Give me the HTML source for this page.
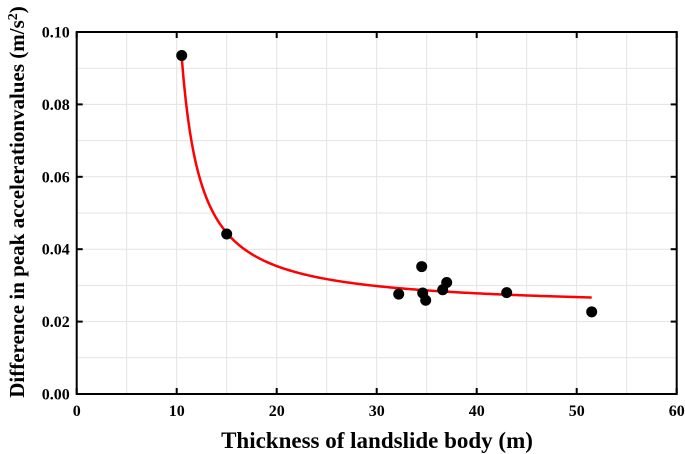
<!DOCTYPE html>
<html><head><meta charset="utf-8"><style>
html,body{margin:0;padding:0;background:#fff;}
svg{display:block;font-family:"Liberation Serif",serif;font-weight:bold;}
</style></head><body>
<svg id="chart" width="685" height="454"></svg>
<script>
const xTicks=[0,10,20,30,40,50,60];
const yTicks=[0,0.02,0.04,0.06,0.08,0.10];
const yTickLabels=["0.00","0.02","0.04","0.06","0.08","0.10"];
const xValues=[10.5,15,32.2,34.5,34.6,34.9,36.6,37,43,51.5];
const yValues=[0.0935,0.0442,0.0276,0.0352,0.0279,0.0259,0.0288,0.0308,0.0280,0.0227];
const fitParams=[0.0235,0.1356,8.55];
const fitRange=[10.5,51.5];
const NS="http://www.w3.org/2000/svg";
const svg=document.getElementById('chart');
const L=76.7,R=676.7,T=32,B=394;
const sx=v=>L+(v-0)/60*(R-L);
const sy=v=>B-(v-0)/0.1*(B-T);
function mk(tag,attrs,parent){const e=document.createElementNS(NS,tag);for(const k in attrs)e.setAttribute(k,attrs[k]);(parent||svg).appendChild(e);return e;}
for(let i=0;i<=12;i++){const x=sx(i*5);
const g=mk('line',{x1:x,x2:x,y1:T,y2:B,stroke:'#e3e3e3','stroke-width':1});

}
for(let i=0;i<=10;i++){const y=sy(i*0.01);
const g=mk('line',{x1:L,x2:R,y1:y,y2:y,stroke:'#e3e3e3','stroke-width':1});

}
const f=mk('rect',{x:L,y:T,width:R-L,height:B-T,fill:'none',stroke:'#000','stroke-width':2});


xTicks.forEach(v=>{const x=sx(v);
mk('line',{x1:x,x2:x,y1:B,y2:B-6,stroke:'#000','stroke-width':2});
mk('line',{x1:x,x2:x,y1:T,y2:T+6,stroke:'#000','stroke-width':2});
const t=mk('text',{x:x,y:416,'text-anchor':'middle','font-size':16});t.textContent=v;

});
yTicks.forEach((v,i)=>{const y=sy(v);
mk('line',{x1:L,x2:L+6,y1:y,y2:y,stroke:'#000','stroke-width':2});
mk('line',{x1:R,x2:R-6,y1:y,y2:y,stroke:'#000','stroke-width':2});
const t=mk('text',{x:L-7,y:y+5.5,'text-anchor':'end','font-size':16});t.textContent=yTickLabels[i];

});
let d='';for(let i=0;i<=200;i++){const x=fitRange[0]+(fitRange[1]-fitRange[0])*i/200;const y=fitParams[0]+fitParams[1]/(x-fitParams[2]);d+=(i?'L':'M')+sx(x).toFixed(2)+','+sy(y).toFixed(2);}
const c=mk('path',{d:d,fill:'none',stroke:'#ff0000','stroke-width':2.5});


xValues.forEach((v,i)=>{const p=mk('circle',{cx:sx(v),cy:sy(yValues[i]),r:5.5,fill:'#000'});

});
const xt=mk('text',{x:377,y:448,'text-anchor':'middle','font-size':23});xt.textContent='Thickness of landslide body (m)';


const yt=mk('text',{x:0,y:0,'text-anchor':'middle','font-size':21,transform:'translate(24,202) rotate(-90)'});
yt.innerHTML='Difference in peak accelerationvalues (m/s<tspan dy="-7" font-size="14">2</tspan><tspan dy="7">)</tspan>';


</script>
</body></html>
